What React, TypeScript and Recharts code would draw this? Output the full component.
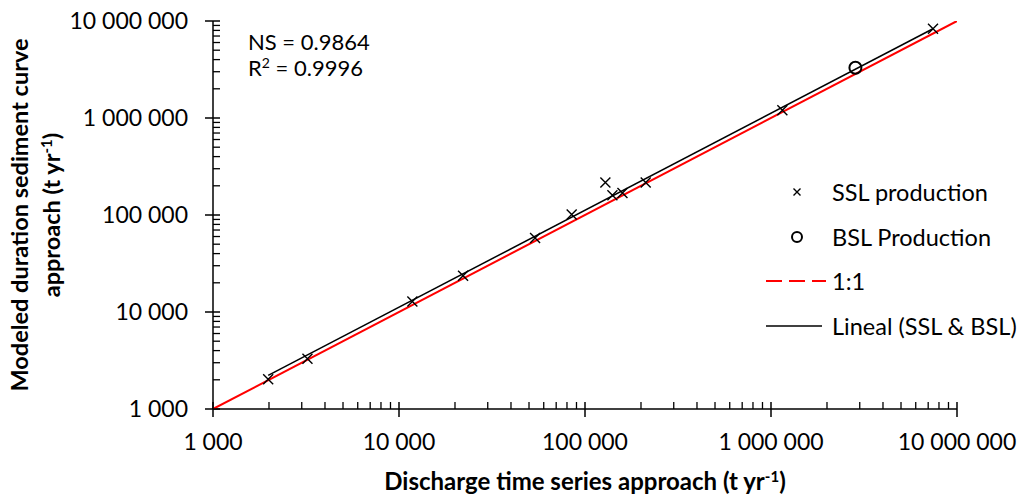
import React from 'react';
import { ScatterChart, Scatter, XAxis, YAxis, Legend } from 'recharts';

// SSL production points (discharge time series vs modeled duration curve), t/yr
const sslX = [1980, 3220, 11800, 22100, 53900, 84800, 128700, 140400, 159000, 212000, 1151000, 7430000];
const sslY = [2030, 3290, 12800, 23700, 57900, 101000, 216000, 160000, 169000, 216000, 1200000, 8310000];

// BSL production
const bslX = [2843000];
const bslY = [3300000];

// 1:1 reference and linear fit
const oneX = [1000, 10000000];
const oneY = [1000, 10000000];
const fitX = [1980, 7430000];
const fitY = [2220, 8320000];

const majorTicks = [1000, 10000, 100000, 1000000, 10000000];
const minorSteps = [2, 3, 4, 5, 6, 7, 8, 9];
const allTicks = [
  ...majorTicks,
  ...majorTicks.slice(0, 4).flatMap(d => minorSteps.map(m => m * d)),
].sort((a, b) => a - b);

const legendItems = [
  { label: 'SSL production', icon: 'cross' },
  { label: 'BSL Production', icon: 'circle' },
  { label: '1:1', icon: 'dash' },
  { label: 'Lineal (SSL & BSL)', icon: 'line' },
];

const FONT = "Lato, 'Open Sans', sans-serif";

const zip = (xs: number[], ys: number[]) => xs.map((x, i) => ({ x, y: ys[i] }));
const fmt = (v: number) => String(v).replace(/\B(?=(\d{3})+(?!\d))/g, ' ');

const XTick = (props: any) => {
  const { x, y, payload } = props;
  const v = payload.value;
  if (!majorTicks.includes(v)) {
    return <line x1={x} x2={x} y1={y} y2={y - 7} stroke="#000" strokeWidth={1.3} />;
  }
  return (
    <g>
      <line x1={x} x2={x} y1={y - 7} y2={y + 8} stroke="#000" strokeWidth={1.5} />
      <text x={x} y={y + 41} textAnchor="middle" fontFamily={FONT} fontSize={23} fill="#000">
        {fmt(v)}
      </text>
    </g>
  );
};

const YTick = (props: any) => {
  const { x, y, payload } = props;
  const v = payload.value;
  if (!majorTicks.includes(v)) {
    return <line x1={x} x2={x + 7} y1={y} y2={y} stroke="#000" strokeWidth={1.3} />;
  }
  return (
    <g>
      <line x1={x - 8} x2={x + 7} y1={y} y2={y} stroke="#000" strokeWidth={1.5} />
      <text x={x - 25} y={y + 8} textAnchor="end" fontFamily={FONT} fontSize={23} fill="#000">
        {fmt(v)}
      </text>
    </g>
  );
};

const CrossMark = (props: any) => {
  const { cx, cy } = props;
  const s = 5;
  return (
    <path
      d={`M${cx - s},${cy - s}L${cx + s},${cy + s}M${cx - s},${cy + s}L${cx + s},${cy - s}`}
      stroke="#000"
      strokeWidth={1.4}
      fill="none"
    />
  );
};

const CircleMark = (props: any) => {
  const { cx, cy } = props;
  return <circle cx={cx} cy={cy} r={6} stroke="#000" strokeWidth={2} fill="none" />;
};

const NoMark = () => <g />;

const renderLegend = () => (
  <div style={{ fontFamily: FONT, fontSize: 23.5, color: '#000' }}>
    {legendItems.map(item => (
      <div key={item.label} style={{ display: 'flex', alignItems: 'center', height: 44.5 }}>
        <svg width={64} height={20} style={{ flexShrink: 0 }}>
          {item.icon === 'cross' && (
            <path d="M27.5,6.5L34.5,13.5M27.5,13.5L34.5,6.5" stroke="#000" strokeWidth={1.4} />
          )}
          {item.icon === 'circle' && <circle cx={31} cy={10} r={5} stroke="#000" strokeWidth={2} fill="none" />}
          {item.icon === 'dash' && (
            <line x1={0} x2={60} y1={10} y2={10} stroke="#ff0000" strokeWidth={2} strokeDasharray="16 7" />
          )}
          {item.icon === 'line' && <line x1={0} x2={56} y1={10} y2={10} stroke="#000" strokeWidth={1.5} />}
        </svg>
        <span style={{ marginLeft: 2, whiteSpace: 'nowrap' }}>{item.label}</span>
      </div>
    ))}
  </div>
);

export default function App() {
  return (
    <div style={{ position: 'absolute', left: 0, top: 0, width: 1020, height: 496, background: '#fff' }}>
      <ScatterChart width={1020} height={496} margin={{ top: 21, right: 63, bottom: 77, left: 203 }}>
        <XAxis
          type="number"
          dataKey="x"
          scale="log"
          domain={[1000, 10000000]}
          ticks={allTicks}
          interval={0}
          height={10}
          tickSize={0}
          tickMargin={0}
          tickLine={false}
          tick={<XTick />}
          axisLine={{ stroke: '#000', strokeWidth: 1.5 }}
          allowDataOverflow
        />
        <YAxis
          type="number"
          dataKey="y"
          scale="log"
          domain={[1000, 10000000]}
          ticks={allTicks}
          interval={0}
          width={10}
          tickSize={0}
          tickMargin={0}
          tickLine={false}
          tick={<YTick />}
          axisLine={{ stroke: '#000', strokeWidth: 1.5 }}
          allowDataOverflow
        />
        <Scatter
          data={zip(oneX, oneY)}
          line={{ stroke: '#ff0000', strokeWidth: 2 }}
          shape={<NoMark />}
          isAnimationActive={false}
        />
        <Scatter
          data={zip(fitX, fitY)}
          line={{ stroke: '#000', strokeWidth: 1.5 }}
          shape={<NoMark />}
          isAnimationActive={false}
        />
        <Scatter data={zip(sslX, sslY)} shape={<CrossMark />} isAnimationActive={false} />
        <Scatter data={zip(bslX, bslY)} shape={<CircleMark />} isAnimationActive={false} />
        <Legend
          content={renderLegend}
          layout="vertical"
          align="center"
          verticalAlign="middle"
          wrapperStyle={{ left: 766, top: 170, width: 254, height: 180 }}
        />
      </ScatterChart>
      {/* titles and fit statistics */}
      <svg
        width={1020}
        height={496}
        style={{ position: 'absolute', left: 0, top: 0, pointerEvents: 'none' }}
        fontFamily={FONT}
        fill="#000"
      >
        <text x={248} y={50} fontSize={22}>NS = 0.9864</text>
        <text x={248} y={76} fontSize={22}>
          R<tspan dy={-8} fontSize={14}>2</tspan>
          <tspan dy={8}> = 0.9996</tspan>
        </text>
        <text x={585} y={490} textAnchor="middle" fontSize={24} fontWeight="bold">
          Discharge time series approach (t yr<tspan dy={-8} fontSize={15}>-1</tspan>
          <tspan dy={8}>)</tspan>
        </text>
        <text transform="translate(28,215) rotate(-90)" textAnchor="middle" fontSize={23.5} fontWeight="bold">
          Modeled duration sediment curve
        </text>
        <text transform="translate(60,215) rotate(-90)" textAnchor="middle" fontSize={23.5} fontWeight="bold">
          approach (t yr<tspan dy={-8} fontSize={15}>-1</tspan>
          <tspan dy={8}>)</tspan>
        </text>
      </svg>
    </div>
  );
}
